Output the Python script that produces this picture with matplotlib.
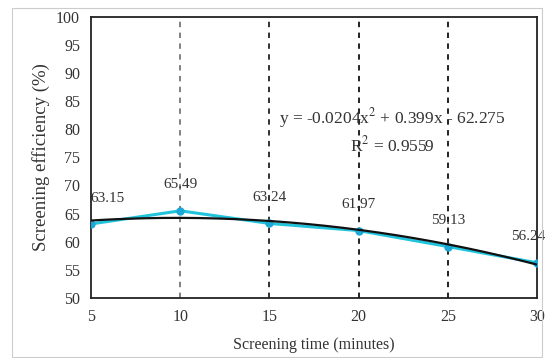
import matplotlib.pyplot as plt
import numpy as np
from matplotlib.patches import Rectangle

plt.rcParams['font.family'] = ['Liberation Serif', 'DejaVu Serif']
plt.rcParams['mathtext.fontset'] = 'stix'

time_min = [5, 10, 15, 20, 25, 30]
efficiency = [63.15, 65.49, 63.24, 61.97, 59.13, 56.24]
value_labels = ["63.15", "65.49", "63.24", "61.97", "59.13", "56.24"]
guide_x = [10, 15, 20, 25]
guide_colors = ["#777777", "#222222", "#111111", "#111111"]

fig = plt.figure(figsize=(5.49, 3.58), dpi=100)
ax = fig.add_axes([0.166, 0.168, 0.812, 0.785])

# outer chart border
fig.patches.append(Rectangle((0.022, 0.003), 0.966, 0.975, transform=fig.transFigure,
                             fill=False, edgecolor="#cccccc", linewidth=0.8))

for gx, gc in zip(guide_x, guide_colors):
    ax.axvline(gx, color=gc, linestyle=(0, (3, 3)), linewidth=1.3, zorder=1)

ax.plot(time_min, efficiency, color="#22c4dc", linewidth=2.2, marker="o",
        markersize=5, markerfacecolor="#1aa9d6", markeredgecolor="#1aa9d6", zorder=3)

# 2nd-order trendline
coef = np.polyfit(time_min, efficiency, 2)
xs = np.linspace(5, 30, 200)
ax.plot(xs, np.polyval(coef, xs), color="#111111", linewidth=1.6, zorder=4)

offsets = [(12, 14), (0, 14), (0, 14), (0, 14), (0, 14), (-6, 14)]
for x, y, lab, off in zip(time_min, efficiency, value_labels, offsets):
    ax.annotate(lab, (x, y), xytext=off, textcoords="offset points",
                ha="center", va="bottom", fontsize=11, color="#333333",
                annotation_clip=False, zorder=5)

ax.text(21.9, 82, "y = -0.0204x$^2$ + 0.399x - 62.275", ha="center", va="center",
        fontsize=12.5, color="#333333")
ax.text(21.9, 77.2, "R$^2$ = 0.9559", ha="center", va="center",
        fontsize=12.5, color="#333333")

ax.set_xlim(5, 30)
ax.set_ylim(50, 100)
ax.set_xticks([5, 10, 15, 20, 25, 30])
ax.set_yticks(range(50, 101, 5))
ax.tick_params(length=0, labelsize=11.5, colors="#333333", pad=8)
for s in ax.spines.values():
    s.set_color("#222222")
    s.set_linewidth(1.3)
ax.set_xlabel("Screening time (minutes)", fontsize=11.5, color="#333333", labelpad=9)
ax.set_ylabel("Screening efficiency (%)", fontsize=13.5, color="#333333", labelpad=4)

fig.savefig("out.png", dpi=100)
